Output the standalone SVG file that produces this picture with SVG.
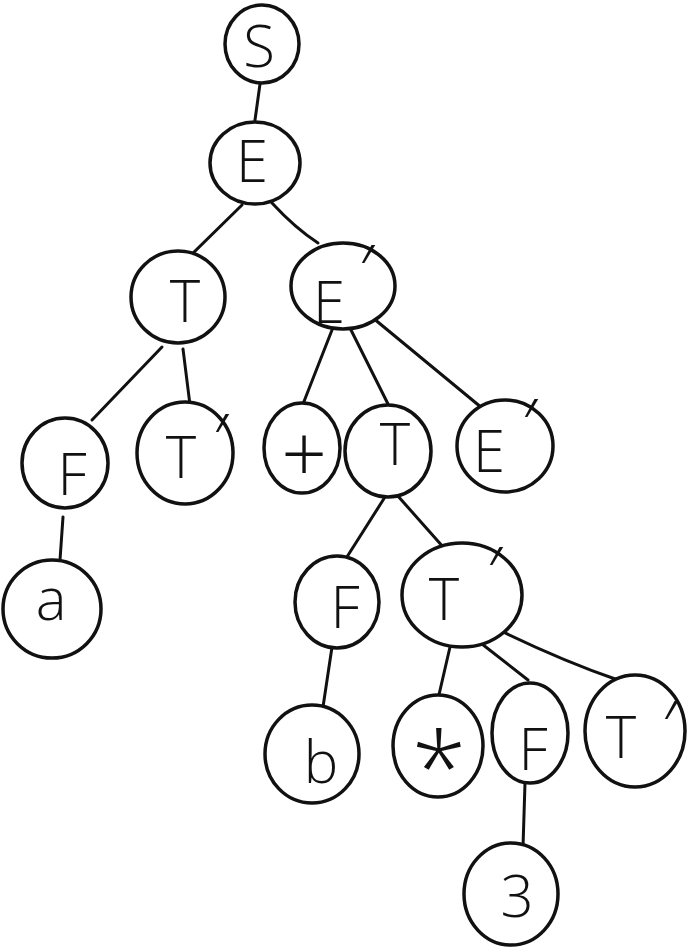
<svg xmlns="http://www.w3.org/2000/svg" width="688" height="948" viewBox="0 0 688 948">
<style>
.n ellipse{fill:#fff;stroke:#111;stroke-width:3.5}
.n text{font-family:"Open Sans","DejaVu Sans",sans-serif;font-weight:300;font-size:58px;fill:#111;text-anchor:middle}
.n text tspan.p{font-size:72px}
#edges line,#edges path{stroke:#111;stroke-width:3;fill:none;stroke-linecap:round}
</style>
<rect width="688" height="948" fill="#fff"/>
<g id="edges">
<line x1="260" y1="84" x2="255" y2="120"/>
<line x1="242" y1="205" x2="188" y2="258"/>
<path d="M272 203 Q295 228 318 243"/>
<line x1="162" y1="347" x2="92" y2="420"/>
<line x1="183" y1="349" x2="190" y2="405"/>
<line x1="63" y1="517" x2="60" y2="560"/>
<line x1="332" y1="330" x2="303" y2="404"/>
<line x1="350" y1="328" x2="388" y2="404"/>
<line x1="373" y1="318" x2="482" y2="408"/>
<line x1="385" y1="497" x2="345" y2="560"/>
<line x1="397" y1="495" x2="452" y2="557"/>
<line x1="332" y1="647" x2="323" y2="707"/>
<line x1="450" y1="647" x2="438" y2="699"/>
<line x1="473" y1="637" x2="528" y2="680"/>
<path d="M495 628 Q560 660 618 680"/>
<line x1="525" y1="783" x2="523" y2="847"/>
</g>
<g id="n-S" class="n"><ellipse cx="262" cy="44" rx="37" ry="39"/><text x="259" y="67">S</text></g>
<g id="n-E" class="n"><ellipse cx="255" cy="163" rx="45" ry="41"/><text x="252" y="182">E</text></g>
<g id="n-T1" class="n"><ellipse cx="178" cy="297" rx="47" ry="46"/><text x="185" y="322">T</text></g>
<g id="n-E1" class="n"><ellipse cx="343" cy="286" rx="52" ry="43"/><text x="329" y="323">E<tspan class="p" x="367" y="296">′</tspan></text></g>
<g id="n-F1" class="n"><ellipse cx="65" cy="463" rx="43" ry="45"/><text x="72" y="495">F</text></g>
<g id="n-T1p" class="n"><ellipse cx="185" cy="453" rx="48" ry="51"/><text x="181" y="478">T<tspan class="p" x="221" y="465">′</tspan></text></g>
<g id="n-a" class="n"><ellipse cx="52" cy="609" rx="49" ry="49"/><text x="51" y="620">a</text></g>
<g id="n-plus" class="n"><ellipse cx="302" cy="448" rx="38" ry="45"/><text x="304" y="482" style="font-size:80px">+</text></g>
<g id="n-T2" class="n"><ellipse cx="388" cy="451" rx="43" ry="46"/><text x="395" y="465">T</text></g>
<g id="n-E2" class="n"><ellipse cx="505" cy="446" rx="48" ry="46"/><text x="489" y="472">E<tspan class="p" x="530" y="450">′</tspan></text></g>
<g id="n-F2" class="n"><ellipse cx="337" cy="602" rx="42" ry="46"/><text x="345" y="628">F</text></g>
<g id="n-T2p" class="n"><ellipse cx="462" cy="595" rx="60" ry="52"/><text x="444" y="620">T<tspan class="p" x="495" y="598">′</tspan></text></g>
<g id="n-b" class="n"><ellipse cx="312" cy="754" rx="47" ry="49"/><text x="321" y="783">b</text></g>
<g id="n-star" class="n"><ellipse cx="438" cy="746" rx="45" ry="51"/><text x="439" y="804" style="font-size:100px;font-weight:300">*</text></g>
<g id="n-F3" class="n"><ellipse cx="530" cy="733" rx="38" ry="50"/><text x="533" y="770">F</text></g>
<g id="n-T3p" class="n"><ellipse cx="635" cy="731" rx="50" ry="56"/><text x="621" y="758">T<tspan class="p" x="670" y="752">′</tspan></text></g>
<g id="n-3" class="n"><ellipse cx="511" cy="894" rx="47" ry="51"/><text x="517" y="917">3</text></g>
</svg>
